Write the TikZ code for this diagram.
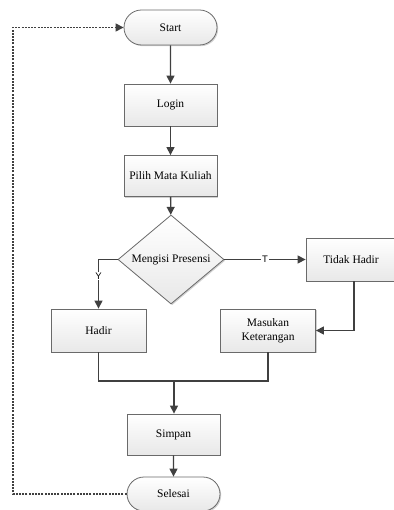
\documentclass[tikz,border=0pt]{standalone}
\usepackage{fontspec}
\setmainfont{Liberation Serif}
\newfontfamily\labfont{Liberation Sans}
\usetikzlibrary{shapes.geometric,shapes.misc,arrows.meta,shadows}
\definecolor{linec}{HTML}{404040}
\definecolor{borderc}{HTML}{6A6A6A}
\begin{document}
\begin{tikzpicture}[x=1pt,y=-1pt,
  base/.style={draw=borderc, line width=0.8pt, top color=white, bottom color=black!9,
    drop shadow={shadow xshift=1.2pt, shadow yshift=-1.2pt, fill=black!30, opacity=0.6},
    font=\fontsize{11.5}{14}\selectfont, align=center, inner sep=0pt},
  procbox/.style={base, rectangle},
  termbox/.style={base, rounded rectangle},
  decbox/.style={base, diamond},
  arr/.style={draw=linec, line width=1.3pt, -{Triangle[length=8pt,width=8pt]}},
  plain/.style={draw=linec, line width=1.3pt},
  loopline/.style={draw=linec, line width=1.1pt, dash pattern=on 2pt off 1.2pt, -{Triangle[length=8pt,width=8pt]}},
  lab/.style={fill=white, inner sep=1pt, font=\labfont\fontsize{9.5}{10}\selectfont}
]
\useasboundingbox (0,0) rectangle (393,510);
\node[termbox, minimum width=93pt, minimum height=35pt] (start) at (170.5,27.5) {Start};
\node[procbox, minimum width=93pt, minimum height=42pt] (login) at (170.5,105) {Login};
\node[procbox, minimum width=93pt, minimum height=41pt] (pilih) at (170.5,176) {Pilih Mata Kuliah};
\node[decbox, minimum width=106pt, minimum height=79pt] (dia) at (171,259.5) {Mengisi Presensi};
\node[procbox, minimum width=96pt, minimum height=43pt] (tidak) at (354,259.5) {\hspace*{-6pt}Tidak Hadir};
\node[procbox, minimum width=95pt, minimum height=43pt] (hadir) at (98.5,330.5) {Hadir};
\node[procbox, minimum width=95pt, minimum height=43pt] (masuk) at (268,330.5) {Masukan\\Keterangan};
\node[procbox, minimum width=93pt, minimum height=41pt] (simpan) at (173.5,434.5) {Simpan};
\node[termbox, minimum width=93pt, minimum height=34pt] (selesai) at (173.5,494) {Selesai};

\coordinate (merge) at (174,381);
\coordinate (loopc) at (13,494);

\draw[arr] (start) -- (login);
\draw[arr] (login) -- (pilih);
\draw[arr] (pilih) -- (dia);
\draw[arr] (dia.west) -| (hadir.north) node[lab, pos=0.67] {Y};
\draw[arr] (dia.east) -- (tidak.west) node[lab, midway] {T};
\draw[arr] (tidak.south) |- (masuk.east);
\draw[plain] (hadir.south) |- (merge);
\draw[plain] (masuk.south) |- (merge);
\draw[arr] (merge) -- (simpan.north -| merge);
\draw[arr] (simpan) -- (selesai);
\draw[loopline] (selesai.west) -- (loopc) |- (start.west);
\end{tikzpicture}
\end{document}
